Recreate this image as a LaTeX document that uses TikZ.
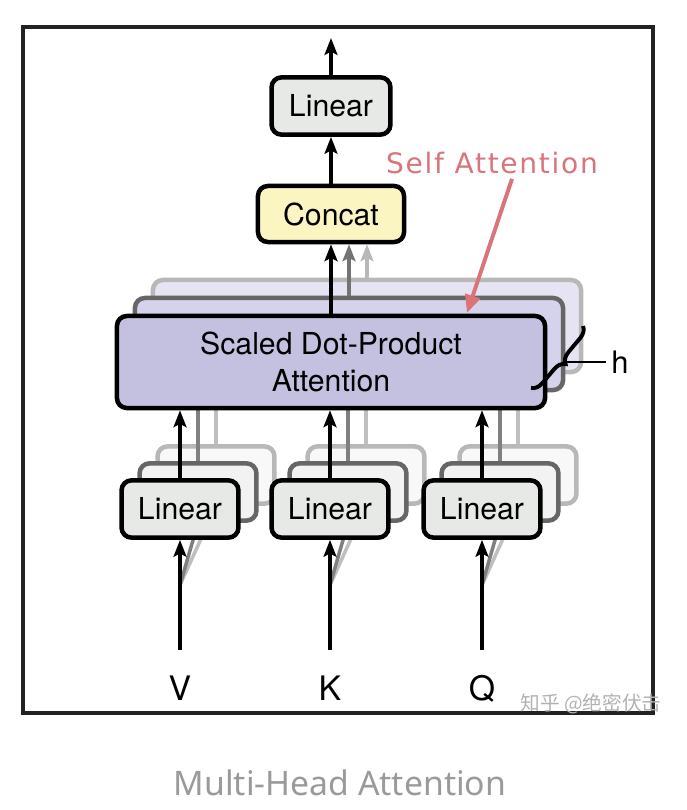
\documentclass[tikz,border=0pt]{standalone}
\usepackage{fontspec}
\setmainfont{TeX Gyre Heros}
\newfontfamily\capFont{Noto Sans}
\newfontfamily\selfFont[LetterSpace=6]{DejaVu Sans}
\newfontfamily\cjkFont{Noto Sans CJK SC}
\usetikzlibrary{arrows.meta, positioning, calc, decorations.pathreplacing}
\definecolor{linGray}{HTML}{E7E9E7}
\definecolor{concatYel}{HTML}{FBF5C1}
\definecolor{attPurple}{HTML}{C4C0E0}
\definecolor{attPurple2}{HTML}{D5D2EB}
\definecolor{attPurple3}{HTML}{E6E4F3}
\definecolor{selfRed}{HTML}{D8747A}
\definecolor{capGray}{HTML}{9A9A9A}
\definecolor{frameDark}{HTML}{222222}
\tikzset{
  arrowK/.style={-{Stealth[length=4.2mm, width=3.2mm, inset=0.8mm]}, line width=2.6pt},
  arrowG2/.style={arrowK, color=black!55},
  arrowG3/.style={arrowK, color=black!28},
  lineG2/.style={line width=2.5pt, color=black!50},
  lineG3/.style={line width=2.5pt, color=black!25},
  arrowR/.style={-{Triangle[length=4.5mm, width=3.8mm]}, selfRed, line width=2.8pt},
  boxLin/.style={rectangle, rounded corners=7pt, draw=black, line width=3.2pt,
                 fill=linGray, font=\fontsize{21.5}{26}\selectfont, inner sep=0pt,
                 minimum width=2.92cm, minimum height=1.43cm},
  boxLin2/.style={boxLin, draw=black!60, fill=linGray!60},
  boxLin3/.style={boxLin, draw=black!28, fill=linGray!30},
  boxCat/.style={boxLin, fill=concatYel, minimum width=3.65cm, minimum height=1.4cm},
  boxAtt/.style={boxLin, fill=attPurple, align=center, minimum width=10.7cm,
                 minimum height=2.3cm, font=\fontsize{21.5}{26.5}\selectfont},
  boxAtt2/.style={boxAtt, draw=black!60, fill=attPurple2},
  boxAtt3/.style={boxAtt, draw=black!28, fill=attPurple3},
  lblIn/.style={font=\fontsize{24}{28}\selectfont, anchor=base, inner sep=0pt},
}

\begin{document}
\begin{tikzpicture}[x=0.025cm, y=-0.025cm]
    \useasboundingbox (0,0) rectangle (686,810);
    \draw[frameDark, line width=2.2pt] (23,27) rectangle (653,713);

    % linear stacks for V, K, Q
    \foreach \nm/\xx in {V/180, K/330, Q/482} {
      \coordinate (src\nm) at (\xx,650);
      \coordinate (fan\nm) at (\xx,585);
      \node[boxLin3] (lin\nm3) at (\xx+36,475) {};
      \draw[lineG3] (fan\nm) -- (lin\nm3.south);
      \node[boxLin2] (lin\nm2) at (\xx+18,492) {};
      \draw[lineG2] (fan\nm) -- (lin\nm2.south);
      \draw[lineG3] (lin\nm3.north) -- +(0,-60);
      \draw[lineG2] (lin\nm2.north) -- +(0,-60);
      \node[boxLin] (lin\nm) at (\xx,509) {Linear};
      \draw[arrowK] (src\nm) -- (lin\nm.south);
      \node[lblIn] (in\nm) at (\xx,700) {\nm};
    }

    % scaled dot-product attention, h copies
    \node[boxAtt3] (att3) at (367,326) {};
    \node[boxAtt2] (att2) at (349,344) {};
    \node[boxAtt] (att) at (331,362) {Scaled Dot-Product\\Attention};
    \foreach \nm in {V, K, Q}
      \draw[arrowK] (lin\nm.north) -- (lin\nm.north |- att.south);

    % concat + output linear
    \node[boxCat] (concat) at (331,214) {Concat};
    \node[boxLin, minimum width=2.97cm] (linTop) at (331,106) {Linear};
    \coordinate (outTop) at (331,38);
    \draw[arrowG3] (att3.north) -- (att3.north |- concat.south);
    \draw[arrowG2] (att2.north) -- (att2.north |- concat.south);
    \draw[arrowK] (att.north) -- (concat.south);
    \draw[arrowK] (concat.north) -- (linTop.south);
    \draw[arrowK] (linTop.north) -- (outTop);

    % h brace
    \draw[decorate, decoration={brace, amplitude=0.28cm}, line width=2.8pt]
      (583,326) -- (531,388);
    \coordinate (hTip) at (567,362);
    \node[font=\fontsize{22}{26}\selectfont] (hLbl) at (620,362) {h};
    \draw[line width=1.8pt] (hTip) -- (hLbl.west);

    % self attention note
    \node[font=\selfFont\fontsize{20}{24}\selectfont, text=selfRed] (selfAtt) at (492,163) {Self Attention};
    \coordinate (selfTip) at (467,313);
    \draw[arrowR] ($(selfAtt.south)+(20,0)$) -- (selfTip);

    \node[font=\cjkFont\fontsize{14}{16}\selectfont, text=black!30] (wmark) at (591,704) {知乎 @绝密伏击};
    \node[font=\capFont\fontsize{24}{28}\selectfont, text=capGray] (caption) at (340,783) {Multi-Head Attention};
\end{tikzpicture}
\end{document}
